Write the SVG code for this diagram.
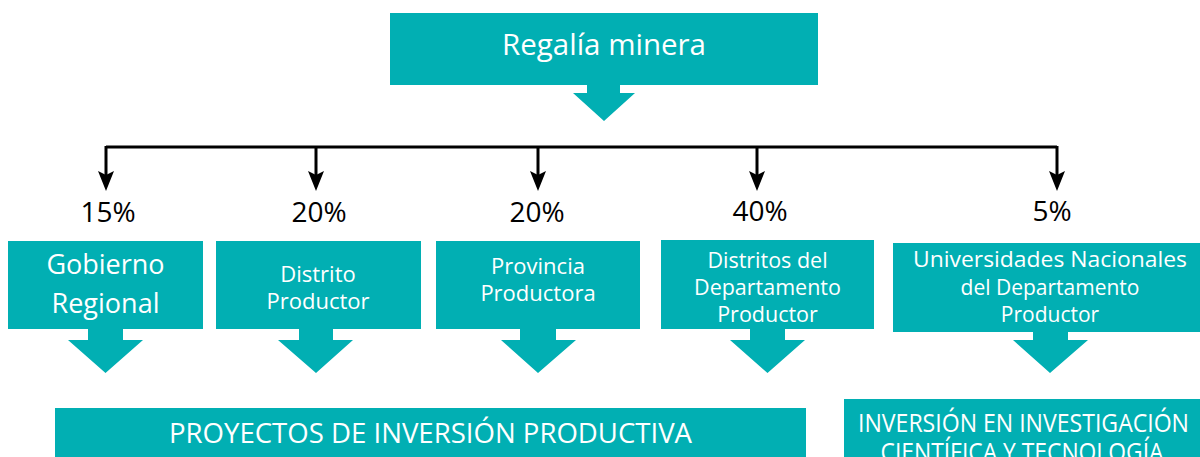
<svg xmlns="http://www.w3.org/2000/svg" width="1200" height="457" viewBox="0 0 1200 457">
<style>
.box{fill:#01AFB3}
.wt{fill:#ffffff;font-family:"Open Sans","Noto Sans",sans-serif;text-anchor:middle}
.pct{fill:#000000;font-family:"Open Sans","Noto Sans",sans-serif;font-size:28px;text-anchor:middle}
.conn{fill:none;stroke:#000000;stroke-width:3}
.head{fill:#000000}
</style>
<defs>
<path id="ah" d="M0,0 L-8,-20 L0,-16 L8,-20 Z"/>
</defs>
<rect width="1200" height="457" fill="#ffffff"/>
<g id="connectors">
<path class="conn" d="M106,147 H1057"/>
<path class="conn" d="M106,146 V176"/>
<path class="conn" d="M316,146 V176"/>
<path class="conn" d="M538,146 V176"/>
<path class="conn" d="M757,146 V176"/>
<path class="conn" d="M1057,146 V176"/>
<use class="head" href="#ah" x="106" y="191"/>
<use class="head" href="#ah" x="316" y="191"/>
<use class="head" href="#ah" x="538" y="191"/>
<use class="head" href="#ah" x="757" y="191"/>
<use class="head" href="#ah" x="1057" y="191"/>
<text class="pct" x="108" y="222">15%</text>
<text class="pct" x="319" y="222">20%</text>
<text class="pct" x="537" y="222">20%</text>
<text class="pct" x="760" y="221">40%</text>
<text class="pct" x="1052" y="221">5%</text>
</g>
<g id="regalia">
<rect class="box" x="390" y="13" width="428" height="72"/>
<text class="wt" x="604" y="55" font-size="30" textLength="204" lengthAdjust="spacingAndGlyphs">Regalía minera</text>
<path class="box" d="M587,85 H620 V93 H635 L604,121 L573,93 H587 Z"/>
</g>
<g id="gobierno">
<rect class="box" x="8" y="241" width="195" height="88"/>
<text class="wt" x="105.5" y="274" font-size="27">Gobierno</text>
<text class="wt" x="105.5" y="313" font-size="27">Regional</text>
<path class="box" d="M88,329 H123 V340 H143 L105.5,373 L68,340 H88 Z"/>
</g>
<g id="distrito">
<rect class="box" x="216" y="241" width="205" height="88"/>
<text class="wt" x="318" y="282" font-size="22">Distrito</text>
<text class="wt" x="318" y="309" font-size="22">Productor</text>
<path class="box" d="M299,329 H333 V340 H353 L316,373 L278,340 H299 Z"/>
</g>
<g id="provincia">
<rect class="box" x="436" y="241" width="204" height="88"/>
<text class="wt" x="538" y="274" font-size="22">Provincia</text>
<text class="wt" x="538" y="301" font-size="22">Productora</text>
<path class="box" d="M520,329 H556 V340 H576 L538,373 L501,340 H520 Z"/>
</g>
<g id="distritos-departamento">
<rect class="box" x="661" y="240" width="213" height="89"/>
<text class="wt" x="767.5" y="268" font-size="21.5">Distritos del</text>
<text class="wt" x="767.5" y="295" font-size="21.5">Departamento</text>
<text class="wt" x="767.5" y="322" font-size="21.5">Productor</text>
<path class="box" d="M750,329 H785 V340 H805 L767.5,373 L730,340 H750 Z"/>
</g>
<g id="universidades">
<rect class="box" x="893" y="243" width="307" height="89"/>
<text class="wt" x="1050" y="267" font-size="21" textLength="274" lengthAdjust="spacingAndGlyphs">Universidades Nacionales</text>
<text class="wt" x="1050" y="295" font-size="21">del Departamento</text>
<text class="wt" x="1050" y="322" font-size="21">Productor</text>
<path class="box" d="M1033,332 H1068 V340 H1088 L1050,373 L1013,340 H1033 Z"/>
</g>
<g id="proyectos">
<rect class="box" x="55" y="408" width="751" height="49"/>
<text class="wt" x="430.5" y="443" font-size="26.5" textLength="523" lengthAdjust="spacingAndGlyphs">PROYECTOS DE INVERSIÓN PRODUCTIVA</text>
</g>
<g id="investigacion">
<rect class="box" x="844" y="399" width="356" height="58"/>
<text class="wt" x="1023.5" y="432" font-size="25" textLength="331" lengthAdjust="spacingAndGlyphs">INVERSIÓN EN INVESTIGACIÓN</text>
<text class="wt" x="1022" y="461" font-size="25" textLength="283" lengthAdjust="spacingAndGlyphs">CIENTÍFICA Y TECNOLOGÍA</text>
</g>
</svg>
